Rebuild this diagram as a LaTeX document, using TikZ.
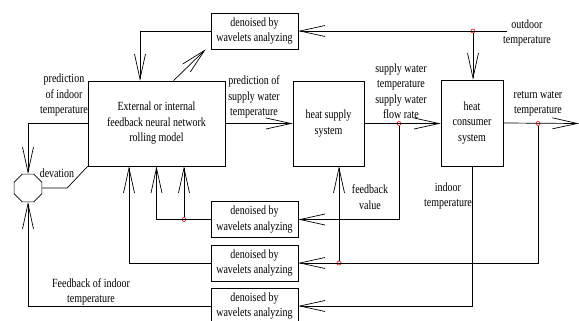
\documentclass[tikz,border=0pt]{standalone}
\usepackage{fontspec}
\setmainfont{Liberation Serif}[FakeStretch=0.8]
\usetikzlibrary{arrows.meta}
\usetikzlibrary{shapes.geometric}
\usetikzlibrary{positioning}
\tikzset{box/.style = {draw, minimum width = 87, minimum height = 36, inner sep = 1, align = center}}
\tikzset{blk/.style = {draw, inner sep = 1, align = center}}
\tikzset{txt/.style = {align = center, inner sep = 0}}
\tikzset{dot/.style = {draw = red, circle, inner sep = 0, minimum size = 4, line width = 0.6pt}}
\tikzset{arr/.style = {-{Straight Barb[length=25pt,width=11pt]}}}

\begin{document}
\begin{tikzpicture}[x=1pt,y=-1pt,line width=0.7pt,font=\fontsize{12.5}{15.5}\selectfont]
        \useasboundingbox (0,0) rectangle (579,321);
        \node[box] (wav1) at (254.5,31) {denoised by\\wavelets analyzing};
        \node[box] (wav2) at (254.5,219.5) {denoised by\\wavelets analyzing};
        \node[box] (wav3) at (254.5,263) {denoised by\\wavelets analyzing};
        \node[box] (wav4) at (254.5,306) {denoised by\\wavelets analyzing};
        \node[blk, minimum width = 137, minimum height = 85] (model) at (156.5,123.5) {External or internal\\feedback neural network\\rolling model};
        \node[blk, minimum width = 71, minimum height = 85] (supply) at (328.5,123.5) {heat supply\\system};
        \node[blk, minimum width = 62, minimum height = 86] (consumer) at (472,123) {heat\\consumer\\system};
        \node[draw, regular polygon, regular polygon sides = 8, minimum size = 30, inner sep = 0] (sum) at (28,188) {};
        \node[txt] (outdoor) at (527,33) {outdoor\\temperature};
        \node[txt] (swt) at (401,91) {supply water\\temperature\\supply water\\flow rate};
        \node[txt] (rwt) at (538,104) {return water\\temperature};
        \node[txt] (pswt) at (254,97) {prediction of\\supply water\\temperature};
        \node[txt] (pit) at (64,95) {prediction\\of indoor\\temperature};
        \node[txt] (dev) at (57,173) {devation};
        \node[txt] (fit) at (91,292) {Feedback of indoor\\temperature};
        \node[txt] (fbv) at (370,197) {feedback\\value};
        \node[txt] (it) at (448,196) {indoor\\temperature};
        \coordinate (od) at (507,31);
        \coordinate (rt) at (579,123.5);
        \node[dot] (d1) at (473,31) {};
        \node[dot] (d2) at (399,123.5) {};
        \node[dot] (d3) at (538,123.5) {};
        \node[dot] (d4) at (184,219.5) {};
        \node[dot] (d5) at (339,263) {};
        \draw[arr] (od) -- (wav1.east);
        \draw[arr] (d1) -- (d1 |- consumer.north);
        \draw[arr] (wav1.west) -| ([xshift=-16.5]model.north);
        \draw[arr] ([xshift=17]model.north) -- ([xshift=-5]wav1.south west);
        \draw[arr] (model.east) -- (supply.west);
        \draw[arr] (supply.east) -- (supply.east -| consumer.west);
        \draw[arr] (consumer.east) -- (rt);
        \draw[arr] (d2) |- (wav2.east);
        \draw[arr] (d3) |- (wav3.east);
        \draw[arr] (consumer.south) |- (wav4.east);
        \draw[arr] (d5) -- (d5 |- supply.south);
        \draw[arr] (wav2.west) -| (model.south);
        \draw[arr] (d4) -- (d4 |- model.south);
        \draw[arr] (wav3.west) -| ([xshift=-27.5]model.south);
        \draw[arr] (model.west) -| (sum.north);
        \draw[arr] (wav4.west) -| (sum.south);
        \draw (sum.east) -- ++(25,0) -- (model.south west);
    \end{tikzpicture}
\end{document}
